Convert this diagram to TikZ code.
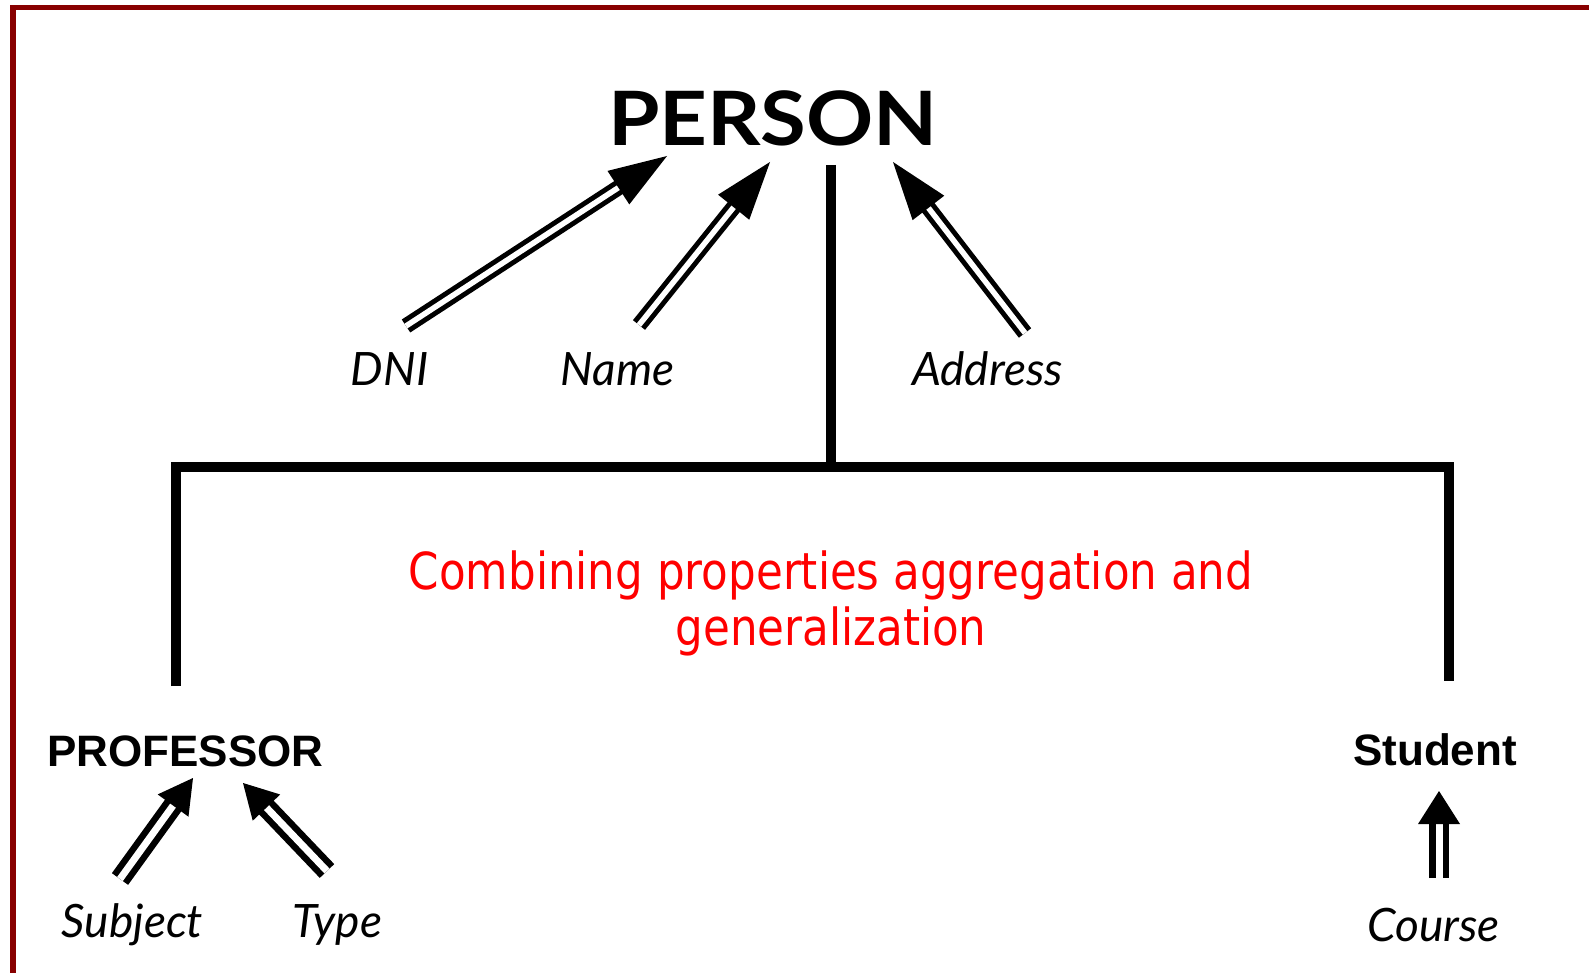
\documentclass[tikz,border=0pt]{standalone}
\usepackage{fontspec}
\usetikzlibrary{calc}
\newfontfamily\headfont{Lato}
\newfontfamily\attrfont{Lato}
\newfontfamily\classfont{Liberation Sans}
\newfontfamily\notefont{DejaVu Sans}
\definecolor{framered}{HTML}{880000}
\definecolor{notered}{HTML}{FF0000}

% double-shafted arrow: #1 tail, #2 tip, #3 head length, #4 half head width, #5 shaft style
\newcommand\dblarrow[5]{%
  \coordinate (hb) at ($(#2)!#3!(#1)$);
  \draw[#5] (#1) -- ($(hb)!-1pt!(#1)$);
  \fill ($(hb)!#4!90:(#2)$) -- (#2) -- ($(hb)!#4!-90:(#2)$) -- cycle;
}

\begin{document}
\begin{tikzpicture}[x=1pt,y=-1pt,
  frame/.style={draw=framered,line width=5.5pt},
  tree/.style={line width=10pt,line join=miter},
  bigshaft/.style={line width=5pt,double=white,double distance=5.5pt},
  smallshaft/.style={line width=6.5pt,double=white,double distance=7pt},
  attr/.style={font=\attrfont\itshape\fontsize{46}{50}\selectfont,anchor=base,inner sep=0pt},
  cls/.style={font=\classfont\bfseries\fontsize{44}{50}\selectfont,anchor=base,inner sep=0pt}]
\clip (0,0) rectangle (1589,973);
\fill[white] (0,0) rectangle (1589,973);

% frame
\draw[frame] (12.75,990) -- (12.75,7.75) -- (1610,7.75);

% entity names
\node[anchor=base,inner sep=0pt,font=\headfont\bfseries\fontsize{75}{80}\selectfont] (person) at (773,146) {\scalebox{1.11}[1]{PERSON}};
\node[cls] (prof) at (185.5,766) {PROFESSOR};
\node[cls] (stud) at (1435,765) {Student};

% attribute labels
\node[attr] (dni) at (389.5,385) {DNI};
\node[attr] (name) at (617.5,385) {Name};
\node[attr] (addr) at (987.5,385) {Address};
\node[attr] (subj) at (132.5,937) {Subject};
\node[attr] (type) at (337,937) {Type};
\node[attr] (course) at (1433.5,941) {Course};

% note (base anchor sits on the last line)
\node[align=center,inner sep=0pt,text=notered,font=\notefont\fontsize{51}{56}\selectfont,anchor=base] (note) at (831,645)
  {\scalebox{0.855}[1]{Combining properties aggregation and}\\\scalebox{0.855}[1]{generalization}};

% generalization tree
\coordinate (stem) at (831,165);
\coordinate (junction) at (831,467);
\coordinate (profend) at (176,686);
\coordinate (studend) at (1449,681);
\draw[tree] (stem) -- (junction);
\draw[tree] (profend) |- (studend |- junction) -- (studend);

% aggregation arrows
\coordinate (dnitail) at (406,326);   \coordinate (dnitip) at (667,156);
\coordinate (nametail) at (639,325);  \coordinate (nametip) at (770,162);
\coordinate (addrtail) at (1025,333); \coordinate (addrtip) at (893,162);
\coordinate (subjtail) at (120,879);  \coordinate (subjtip) at (193,778);
\coordinate (typetail) at (327,871);  \coordinate (typetip) at (243,783);
\coordinate (coursetail) at (1439,878); \coordinate (coursetip) at (1439,791);
\dblarrow{dnitail}{dnitip}{58pt}{20pt}{bigshaft}
\dblarrow{nametail}{nametip}{58pt}{20pt}{bigshaft}
\dblarrow{addrtail}{addrtip}{58pt}{20pt}{bigshaft}
\dblarrow{subjtail}{subjtip}{34pt}{19pt}{smallshaft}
\dblarrow{typetail}{typetip}{34pt}{19pt}{smallshaft}
\dblarrow{coursetail}{coursetip}{33pt}{21pt}{smallshaft}
\end{tikzpicture}
\end{document}
